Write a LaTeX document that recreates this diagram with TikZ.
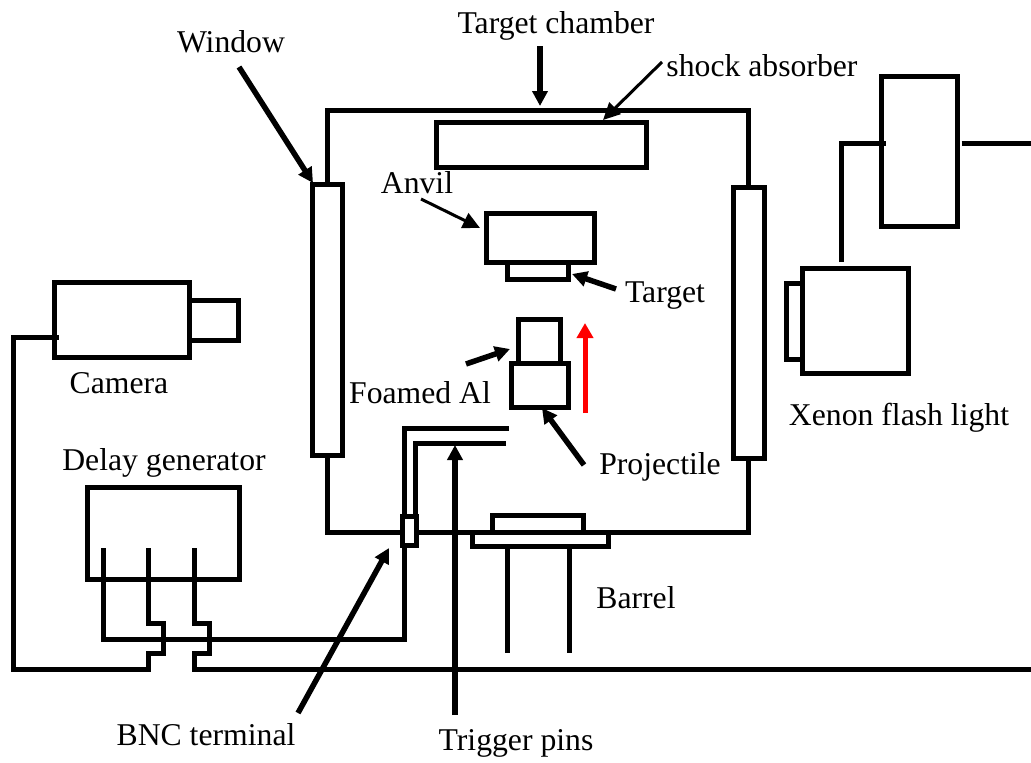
\documentclass[tikz,border=0pt]{standalone}
\usepackage{fontspec}
\setmainfont{Liberation Serif}
\usetikzlibrary{arrows.meta, positioning}

\begin{document}
\begin{tikzpicture}[
  x=1pt, y=-1pt,
  box/.style = {draw, line width=5pt, fill=white, inner sep=0pt, outer sep=0pt, anchor=north west},
  wire/.style = {line width=5pt, line join=miter},
  arrow/.style = {-{Triangle[width=15pt, length=15pt]}, line width=5.5pt},
  thinarrow/.style = {-{Triangle[width=16pt, length=17pt]}, line width=3pt},
  redarrow/.style = {-{Triangle[width=16pt, length=15pt]}, line width=5pt, red},
  tag/.style = {font=\fontsize{31.7}{36}\selectfont, inner sep=0pt, anchor=base}
]
\path[use as bounding box] (0,0) rectangle (1031,763);

% Target chamber
\node[box, fill=none, minimum width=421pt, minimum height=422pt] (chamber) at (327,110) {};
\node[box, minimum width=210pt, minimum height=45pt] (absorber) at (436,122) {};
\node[box, minimum width=30pt, minimum height=271pt] (window1) at (312,184) {};
\node[box, minimum width=31pt, minimum height=271pt] (window2) at (733,187) {};

% Anvil, target and projectile
\node[box, minimum width=108pt, minimum height=49pt] (anvil) at (486,213) {};
\node[box, minimum width=61pt, minimum height=17pt, below=0pt of anvil, xshift=-2.5pt, anchor=north] (target) {};
\node[box, minimum width=57pt, minimum height=44pt] (projectile) at (511,363) {};
\node[box, minimum width=42pt, minimum height=44pt, above=0pt of projectile, xshift=-0.5pt, anchor=south] (foam) {};

% Barrel
\node[box, minimum width=136pt, minimum height=14pt] (flange) at (472,532) {};
\node[box, minimum width=91pt, minimum height=17pt, above=0pt of flange, xshift=-2.5pt, anchor=south] (muzzle) {};
\coordinate (barrel1) at (507,653);
\coordinate (barrel2) at (569,653);
\draw[wire] (flange.south -| barrel1) -- (barrel1);
\draw[wire] (flange.south -| barrel2) -- (barrel2);

% Camera
\node[box, minimum width=135pt, minimum height=75pt] (camera) at (54.5,282.5) {};
\node[box, minimum width=49pt, minimum height=40pt] (lens) at (189.5,300.5) {};

% Xenon flash light
\node[box, minimum width=76pt, minimum height=150pt] (supply) at (881.5,76.5) {};
\node[box, minimum width=16pt, minimum height=76pt] (flashfront) at (786,283.5) {};
\node[box, minimum width=106pt, minimum height=105pt] (flash) at (802.5,268) {};
\coordinate (flashout) at (1031,143);
\coordinate (flashtop) at (841,262);
\draw[wire] (flashtop) |- ([xshift=4pt]supply.west |- flashout);
\draw[wire] ([xshift=4pt]supply.east |- flashout) -- (flashout);

% Delay generator and BNC terminal
\node[box, minimum width=152pt, minimum height=92pt] (delay) at (87,487) {};
\node[box, minimum width=14pt, minimum height=29pt] (bnc) at (402.5,516.5) {};

% Trigger pins
\coordinate (pin1) at (509,428);
\coordinate (pin2) at (506,443);
\draw[wire] (pin1) -| ([xshift=-5.5pt]bnc.north);
\draw[wire] (pin2) -| ([xshift=5.5pt]bnc.north);

% Cables
\coordinate (port1) at (103,548);
\coordinate (port2) at (148,548);
\coordinate (port3) at (194,548);
\coordinate (lineend) at (1031,669);
\coordinate (camport) at (13,337);
\draw[wire] (port1) |- (404,639) -- ([xshift=-5.5pt]bnc.south);
\draw[wire] (port2) -- (148,623) -- (163,623) -- (163,653) -- (148,653) -- (148,669) -- (13,669) -- (camport) -- ([xshift=4pt]camera.west |- camport);
\draw[wire] (port3) -- (194,623) -- (209,623) -- (209,653) -- (194,653) -- (194,669) -- (lineend);

% Labels
\node[tag] (chamberlabel) at (556,33) {Target chamber};
\node[tag] (windowlabel) at (231,52) {Window};
\node[tag] (absorberlabel) at (762,76) {shock absorber};
\node[tag] (anvillabel) at (417,193) {Anvil};
\node[tag] (targetlabel) at (665,302) {Target};
\node[tag] (foamlabel) at (420,403) {Foamed Al};
\node[tag] (projectilelabel) at (660,474) {Projectile};
\node[tag] (barrellabel) at (636,608) {Barrel};
\node[tag] (flashlabel) at (899,425) {Xenon flash light};
\node[tag] (cameralabel) at (119,393) {Camera};
\node[tag] (delaylabel) at (164,470) {Delay generator};
\node[tag] (bnclabel) at (206,745) {BNC terminal};
\node[tag] (pinslabel) at (516,750) {Trigger pins};

% Arrows
\coordinate (a1) at (239,67);
\coordinate (a2) at (540,46);
\coordinate (a3) at (662,62);
\coordinate (a4) at (421,199);
\coordinate (a5) at (616,289);
\coordinate (a6) at (466,364);
\coordinate (a7) at (584,465);
\coordinate (a8) at (298,713);
\coordinate (a9) at (455,715);
\coordinate (a10) at (585,413);
\draw[arrow] (a1) -- (313,183);
\draw[arrow] (a2) -- (540,106);
\draw[thinarrow] (a3) -- (603,120);
\draw[thinarrow] (a4) -- (480,228);
\draw[arrow] (a5) -- (572,274);
\draw[arrow] (a6) -- (510,349);
\draw[arrow] (a7) -- (542,408);
\draw[arrow] (a8) -- (389,548);
\draw[arrow] (a9) -- (455,445);
\draw[redarrow] (a10) -- (585,323);
\end{tikzpicture}
\end{document}
